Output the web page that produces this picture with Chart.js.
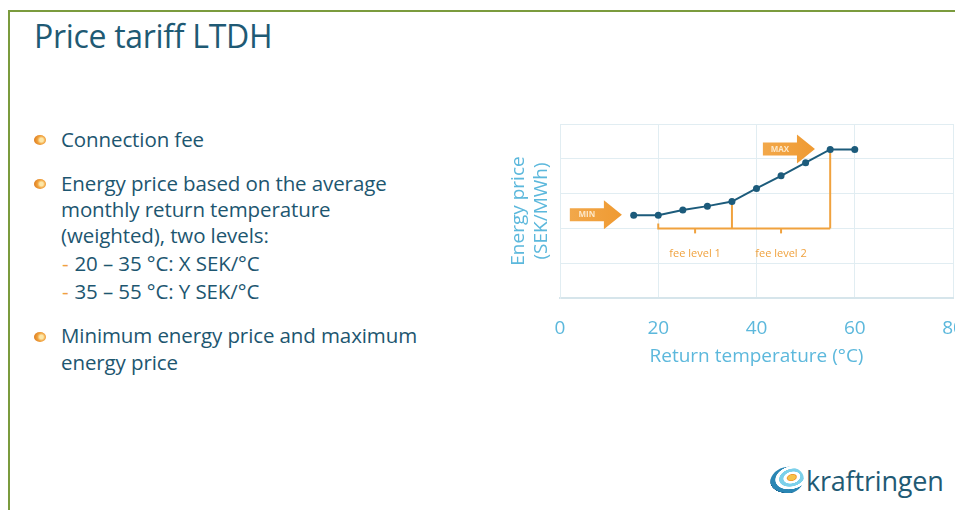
<!DOCTYPE html>
<html><head><meta charset="utf-8">
<script src="https://cdn.jsdelivr.net/npm/chart.js@4/dist/chart.umd.min.js"></script>
<style>
html,body{margin:0;padding:0;width:955px;height:510px;overflow:hidden;background:#fff;font-family:"Open Sans",sans-serif;}
#frame{position:absolute;left:8px;top:10px;width:1000px;height:600px;border-top:2px solid #7b9b3e;border-left:2px solid #7b9b3e;}
#title{position:absolute;left:34px;top:14px;font-size:32px;line-height:44px;color:#1f5a74;white-space:nowrap;letter-spacing:-0.3px}
.ln{position:absolute;left:61px;font-size:20.5px;color:#1d5670;white-space:nowrap;line-height:27px;letter-spacing:-0.1px}
.bul{position:absolute;left:34px;width:12px;height:10px;border-radius:50%;background:radial-gradient(circle at 62% 50%,#fde7a8 0 20%,#f1a23c 45%,#db7a1e 85%);}
.dash{color:#f0a040;margin-right:6px}
#chartwrap{position:absolute;left:490px;top:100px;width:500px;height:280px;}
#logo{position:absolute;left:806px;top:462px;font-size:27px;color:#1f5a74;white-space:nowrap;letter-spacing:-0.2px}
#logoicon{position:absolute;left:770px;top:467px;width:34px;height:27px;border-radius:50%;transform:rotate(-15deg);
background:radial-gradient(ellipse at 66% 44%,#f6c24a 0 11%,#f09a2e 14%,#fff 18% 26%,#7cd0ea 28% 40%,#fff 42% 52%,#2a86b4 54% 68%,#1d6690 69% 70%,rgba(255,255,255,0) 71%);}
</style></head>
<body>
<div id="frame"></div>
<div id="title">Price tariff LTDH</div>

<div class="bul" style="top:135px"></div>
<div class="ln" style="top:126px">Connection fee</div>
<div class="bul" style="top:179px"></div>
<div class="ln" style="top:169.5px">Energy price based on the average</div>
<div class="ln" style="top:196px">monthly return temperature</div>
<div class="ln" style="top:222px">(weighted), two levels:</div>
<div class="ln" style="top:249.5px;left:62px"><span class="dash">-</span>20 – 35 °C: X SEK/°C</div>
<div class="ln" style="top:278px;left:62px"><span class="dash">-</span>35 – 55 °C: Y SEK/°C</div>
<div class="bul" style="top:332px"></div>
<div class="ln" style="top:322px">Minimum energy price and maximum</div>
<div class="ln" style="top:348.5px">energy price</div>

<div id="chartwrap"><canvas id="c" width="500" height="280"></canvas></div>

<div id="logoicon"></div>
<div id="logo">kraftringen</div>

<script>
// ---- data ----
const temperatures = [15, 20, 25, 30, 35, 40, 45, 50, 55, 60];
const prices = [2.38, 2.38, 2.53, 2.64, 2.77, 3.15, 3.51, 3.89, 4.27, 4.27];
const xTicks = [0, 20, 40, 60, 80];
const yGrid = [0, 1, 2, 3, 4, 5];
const feeBounds = [20, 35, 55];
const feeLabels = ['fee level 1', 'fee level 2'];
const feeLineLevel = 2.0;
const feeLabelLevel = 1.26;
const minArrowX = [2, 12.6];
const maxArrowX = [41.3, 51.9];
const arrowTexts = ['MIN', 'MAX'];

const ORANGE = '#f0a23e';
const LINE = '#1c5b7b';
const TICK = '#5cb8dc';

const annot = {
  id: 'annot',
  beforeDatasetsDraw(chart) {
    const {ctx, scales: {x, y}} = chart;
    ctx.save();
    ctx.strokeStyle = ORANGE;
    ctx.lineWidth = 2;
    const yb = y.getPixelForValue(feeLineLevel);
    const x0 = x.getPixelForValue(feeBounds[0]);
    const x2 = x.getPixelForValue(feeBounds[2]);
    ctx.beginPath();
    ctx.moveTo(x0, yb - 5); ctx.lineTo(x0, yb);
    ctx.lineTo(x2, yb);
    ctx.stroke();
    for (let i = 1; i < feeBounds.length; i++) {
      const t = feeBounds[i];
      const idx = temperatures.indexOf(t);
      const xp = x.getPixelForValue(t);
      ctx.beginPath();
      ctx.moveTo(xp, y.getPixelForValue(prices[idx]));
      ctx.lineTo(xp, yb);
      ctx.stroke();
    }
    ctx.fillStyle = ORANGE;
    ctx.font = '11px "Open Sans"';
    ctx.textAlign = 'center';
    ctx.textBaseline = 'middle';
    for (let i = 0; i < feeLabels.length; i++) {
      const mid = (feeBounds[i] + feeBounds[i + 1]) / 2;
      const xp = x.getPixelForValue(mid);
      ctx.beginPath();
      ctx.moveTo(xp, yb); ctx.lineTo(xp, yb + 5);
      ctx.stroke();
      ctx.fillText(feeLabels[i], xp, y.getPixelForValue(feeLabelLevel));
    }
    ctx.restore();
  },
  afterDatasetsDraw(chart) {
    const {ctx, scales: {x, y}} = chart;
    const arrows = [[minArrowX, Math.min(...prices)], [maxArrowX, Math.max(...prices)]];
    ctx.save();
    arrows.forEach(([ax, lvl], i) => {
      const xs = x.getPixelForValue(ax[0]);
      const xe = x.getPixelForValue(ax[1]);
      const yc = y.getPixelForValue(lvl) - 0.5;
      const headL = 18, bodyH = 13, headH = 29;
      const xh = xe - headL;
      const g = ctx.createLinearGradient(xs, 0, xe, 0);
      g.addColorStop(0, '#f2a84a');
      g.addColorStop(1, '#ef9a32');
      ctx.fillStyle = g;
      ctx.beginPath();
      ctx.moveTo(xs, yc - bodyH / 2);
      ctx.lineTo(xh, yc - bodyH / 2);
      ctx.lineTo(xh, yc - headH / 2);
      ctx.lineTo(xe, yc);
      ctx.lineTo(xh, yc + headH / 2);
      ctx.lineTo(xh, yc + bodyH / 2);
      ctx.lineTo(xs, yc + bodyH / 2);
      ctx.closePath();
      ctx.fill();
      ctx.fillStyle = '#fde8c8';
      ctx.font = 'bold 8px "Open Sans"';
      ctx.textAlign = 'center';
      ctx.textBaseline = 'middle';
      ctx.fillText(arrowTexts[i], (xs + xh) / 2, yc + 0.5);
    });
    ctx.restore();
  }
};

new Chart(document.getElementById('c'), {
  type: 'line',
  data: {
    datasets: [{
      data: temperatures.map((t, i) => ({x: t, y: prices[i]})),
      borderColor: LINE,
      backgroundColor: LINE,
      borderWidth: 2,
      pointRadius: 3.5,
      pointBackgroundColor: LINE,
      pointBorderWidth: 0,
      tension: 0
    }]
  },
  options: {
    responsive: false,
    animation: false,
    devicePixelRatio: 1,
    layout: {padding: {top: 24, right: 37, left: 0, bottom: 0}},
    plugins: {legend: {display: false}, tooltip: {enabled: false}},
    scales: {
      x: {
        type: 'linear', min: 0, max: 80,
        afterBuildTicks: s => { s.ticks = xTicks.map(v => ({value: v})); },
        afterFit: s => { s.height = 82; },
        ticks: {color: TICK, font: {size: 19, family: '"Open Sans"'}, padding: 19, maxRotation: 0},
        grid: {color: '#e1edf2', drawTicks: false, lineWidth: 1},
        border: {color: '#d6e5eb', width: 2},
        title: {display: true, text: 'Return temperature (°C)', color: TICK, font: {size: 19, family: '"Open Sans"'}, padding: {top: 0, bottom: 12}}
      },
      y: {
        min: 0, max: 5,
        afterBuildTicks: s => { s.ticks = yGrid.map(v => ({value: v})); },
        afterFit: s => { s.width = 70; },
        ticks: {display: false},
        grid: {color: '#e1edf2', drawTicks: false},
        border: {color: '#e1edf2'},
        title: {display: true, text: ['Energy price', '(SEK/MWh)'], color: TICK, font: {size: 19, family: '"Open Sans"'}, padding: {top: 17, bottom: 0}}
      }
    }
  },
  plugins: [annot]
});
</script>
</body></html>
